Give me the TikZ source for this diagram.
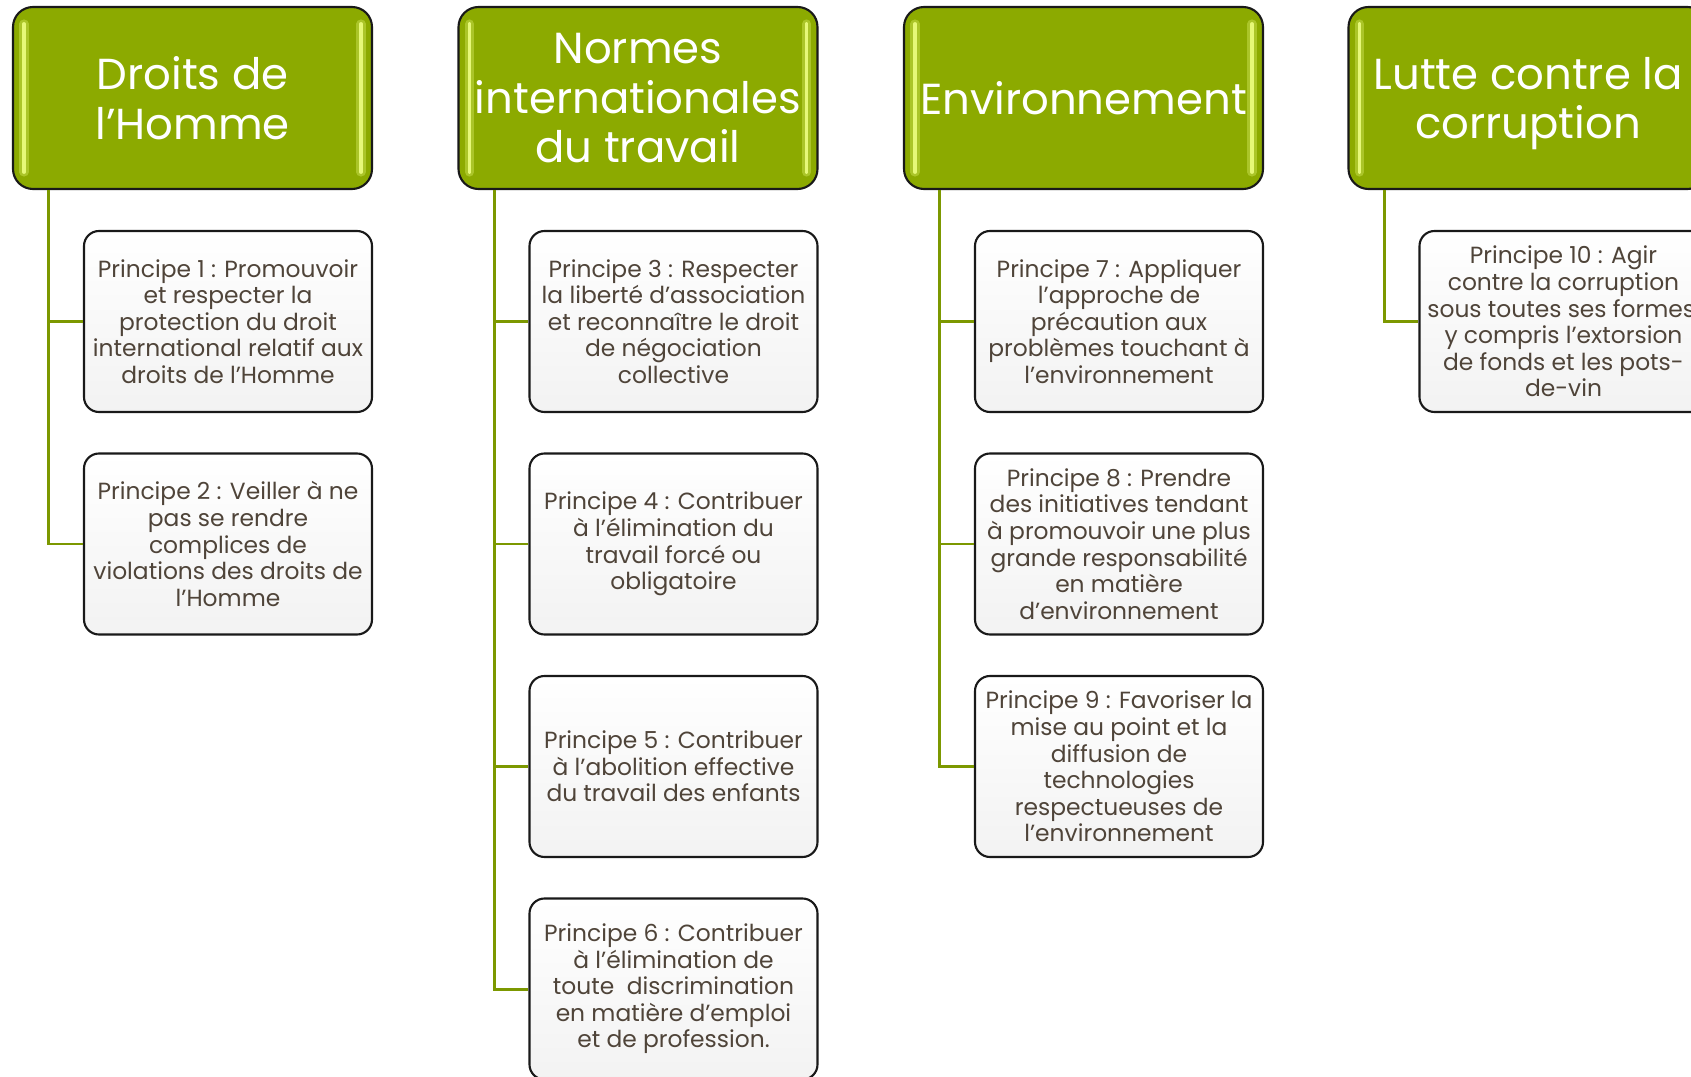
\documentclass[tikz,border=0pt]{standalone}
\usepackage{fontspec}
\setmainfont{Poppins}
\usetikzlibrary{trees}
\definecolor{vertaxe}{RGB}{140,170,0}
\definecolor{vertlien}{RGB}{124,152,0}
\definecolor{refletvert}{RGB}{230,248,120}
\definecolor{textep}{RGB}{79,68,57}
\definecolor{bord}{RGB}{25,25,25}
\begin{document}
\begin{tikzpicture}[
    reflet/.style={draw=refletvert, line width=1.1pt, line cap=round},
    axe/.style={draw=bord, line width=0.6pt, rounded corners=0.2cm, fill=vertaxe,
      minimum width=3.59cm, minimum height=1.82cm, inner sep=0pt, align=center,
      text=white, font=\fontsize{12.35}{14}\selectfont, text depth=0pt,
      path picture={
        \draw[reflet, line width=2.6pt, opacity=0.35] ([xshift=0.11cm,yshift=-0.17cm]path picture bounding box.north west) -- ([xshift=0.11cm,yshift=0.17cm]path picture bounding box.south west);
        \draw[reflet, line width=2.6pt, opacity=0.35] ([xshift=-0.11cm,yshift=-0.17cm]path picture bounding box.north east) -- ([xshift=-0.11cm,yshift=0.17cm]path picture bounding box.south east);
        \draw[reflet] ([xshift=0.11cm,yshift=-0.17cm]path picture bounding box.north west) -- ([xshift=0.11cm,yshift=0.17cm]path picture bounding box.south west);
        \draw[reflet] ([xshift=-0.11cm,yshift=-0.17cm]path picture bounding box.north east) -- ([xshift=-0.11cm,yshift=0.17cm]path picture bounding box.south east);
      }},
    principe/.style={draw=bord, line width=0.6pt, rounded corners=0.15cm,
      top color=white, bottom color=gray!10,
      minimum width=2.88cm, minimum height=1.81cm, inner sep=0pt, align=center,
      text=textep, font=\fontsize{6.65}{7.55}\selectfont},
    level 1/.style={grow via three points={one child at (0.355,-2.235) and two children at (0.355,-2.235) and (0.355,-4.46)}},
    edge from parent/.style={draw=vertlien, line width=0.85pt},
    edge from parent path={([xshift=0.37cm]\tikzparentnode.south west) |- (\tikzchildnode.west)}]
    \useasboundingbox (0,0) rectangle (16.91,-10.77);
    \clip (0,0) rectangle (16.91,-10.77);

    \node[axe] (droits) at (1.925,-0.98) {Droits de\\l’Homme}
      child { node[principe] (p1) {Principe 1 : Promouvoir\\et respecter la\\protection du droit\\international relatif aux\\droits de l’Homme} }
      child { node[principe] (p2) {Principe 2 : Veiller à ne\\pas se rendre\\complices de\\violations des droits de\\l’Homme} }
      ;
    \node[axe] (normes) at (6.38,-0.98) {Normes\\internationales\\du travail}
      child { node[principe] (p3) {Principe 3 : Respecter\\la liberté d’association\\et reconnaître le droit\\de négociation\\collective} }
      child { node[principe] (p4) {Principe 4 : Contribuer\\à l’élimination du\\travail forcé ou\\obligatoire} }
      child { node[principe] (p5) {Principe 5 : Contribuer\\à l’abolition effective\\du travail des enfants} }
      child { node[principe] (p6) {Principe 6 : Contribuer\\à l’élimination de\\toute\ \ discrimination\\en matière d’emploi\\et de profession.} }
      ;
    \node[axe] (envir) at (10.835,-0.98) {Environnement}
      child { node[principe] (p7) {Principe 7 : Appliquer\\l’approche de\\précaution aux\\problèmes touchant à\\l’environnement} }
      child { node[principe] (p8) {Principe 8 : Prendre\\des initiatives tendant\\à promouvoir une plus\\grande responsabilité\\en matière\\d’environnement} }
      child { node[principe] (p9) {Principe 9 : Favoriser la\\mise au point et la\\diffusion de\\technologies\\respectueuses de\\l’environnement} }
      ;
    \node[axe] (lutte) at (15.28,-0.98) {Lutte contre la\\corruption}
      child { node[principe] (p10) {Principe 10 : Agir\\contre la corruption\\sous toutes ses formes,\\y compris l’extorsion\\de fonds et les pots-\\de-vin} }
      ;
  \end{tikzpicture}
\end{document}
